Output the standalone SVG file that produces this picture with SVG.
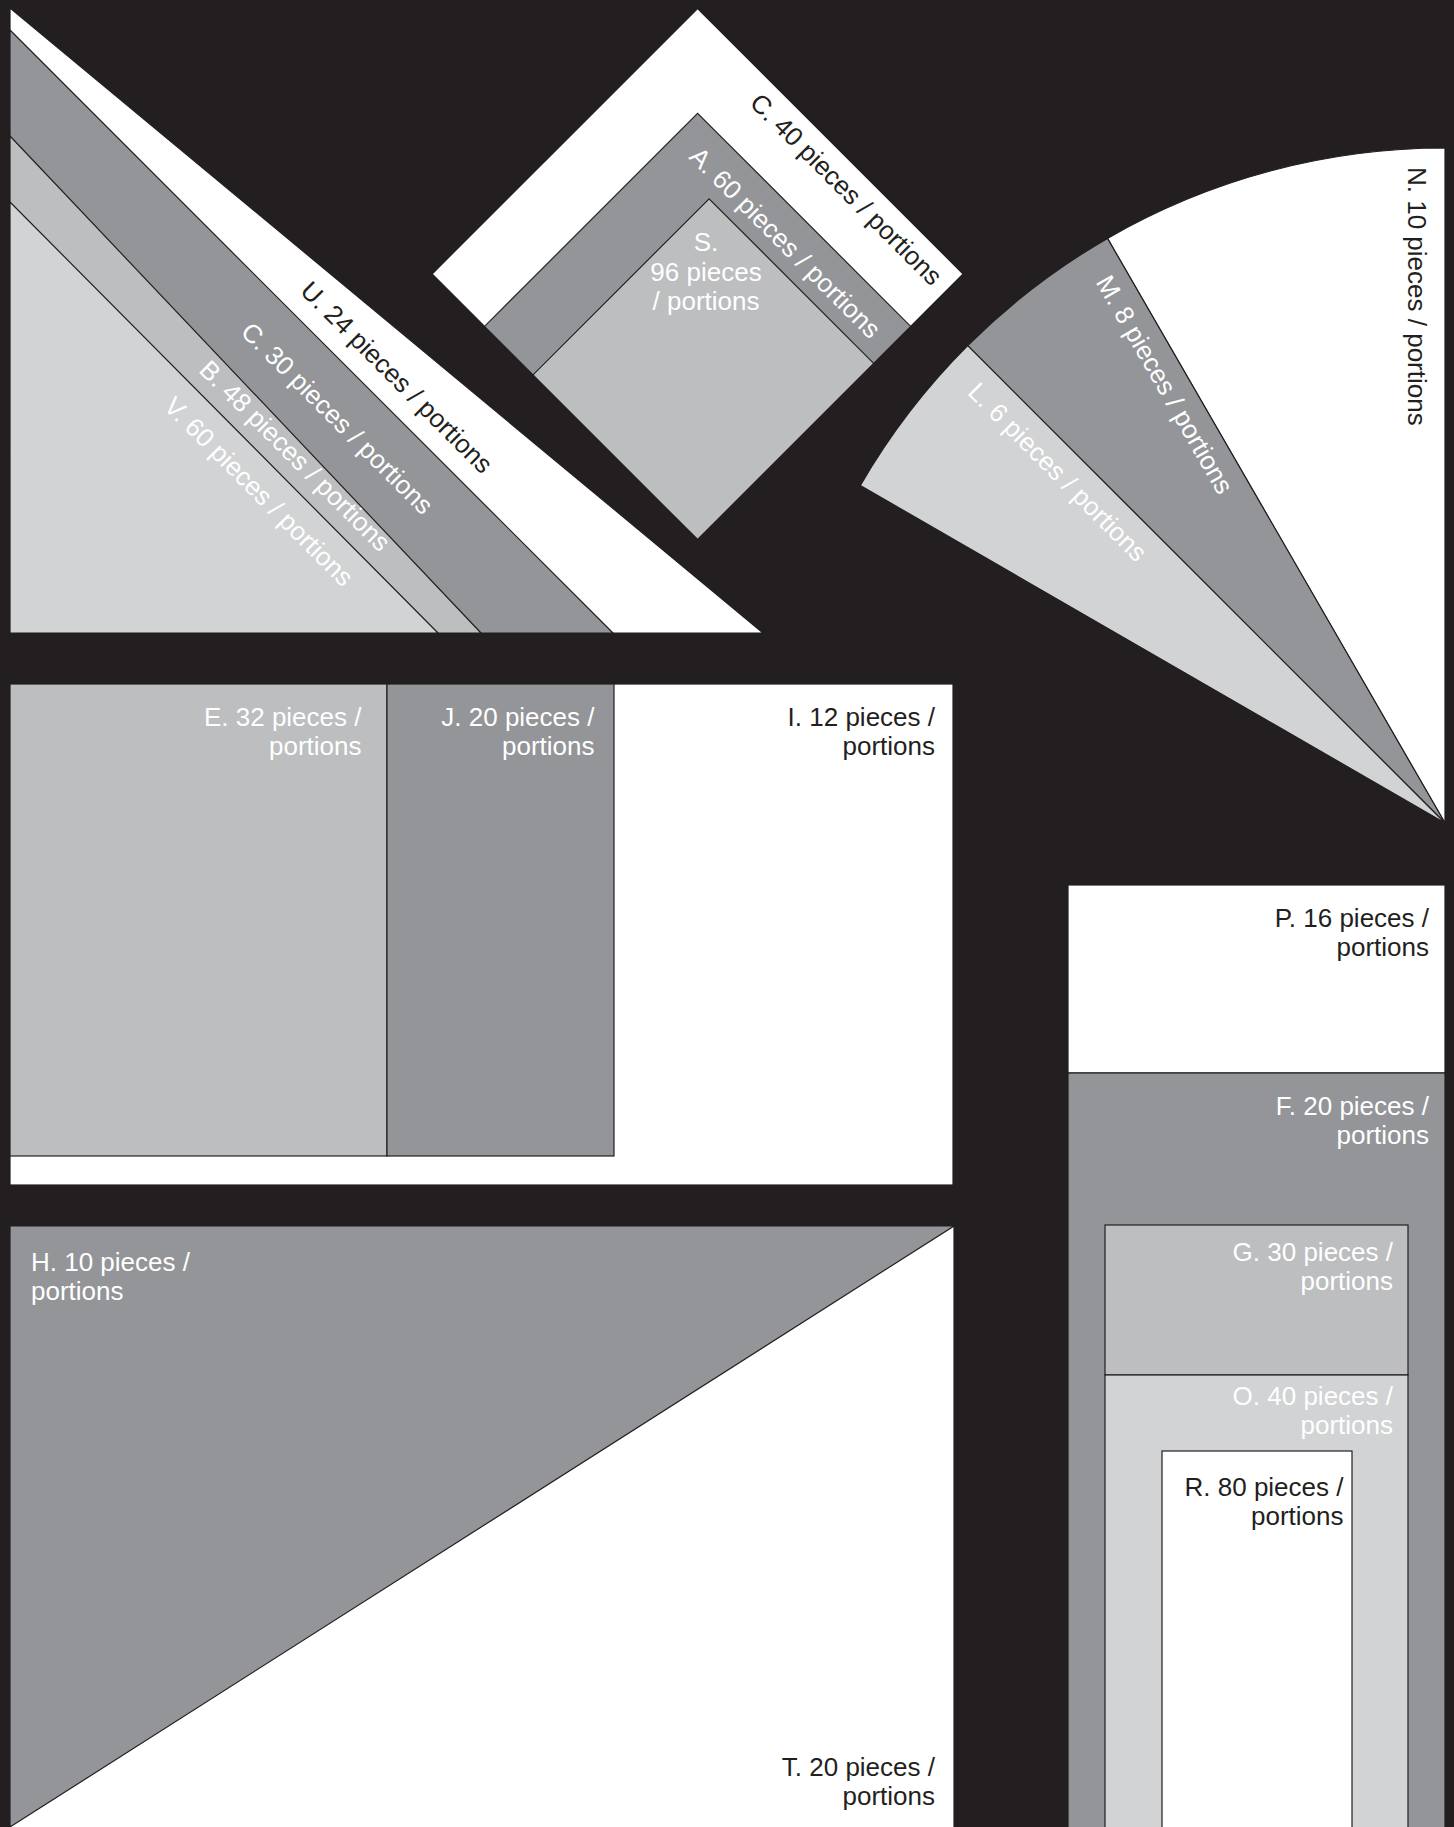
<svg xmlns="http://www.w3.org/2000/svg" width="1454" height="1827" viewBox="0 0 1454 1827">
<style>
.s{stroke:#231f20;stroke-width:1.2;stroke-linejoin:miter}
.w{fill:#ffffff}.g1{fill:#939598}.g2{fill:#bcbec0}.g3{fill:#d1d3d4}
text{font-family:"Liberation Sans",Arial,sans-serif;font-size:26px}
.tb{fill:#231f20}.tw{fill:#ffffff}
</style>
<rect width="1454" height="1827" fill="#231f20"/>
<g id="tri-stack">
<polygon class="w s" points="10,8 763,633 10,633"/>
<polygon class="g1 s" points="10,30 613,633 10,633"/>
<polygon class="g2 s" points="10,136 481,633 10,633"/>
<polygon class="g3 s" points="10,202 438,633 10,633"/>
<text class="tb" text-anchor="middle" transform="translate(390.4,383.6) rotate(45)">U. 24 pieces / portions</text>
<text class="tw" text-anchor="middle" transform="translate(330.9,424.6) rotate(45)">C. 30 pieces / portions</text>
<text class="tw" text-anchor="middle" transform="translate(288.8,462.1) rotate(45)">B. 48 pieces / portions</text>
<text class="tw" text-anchor="middle" transform="translate(252.6,497.8) rotate(45)">V. 60 pieces / portions</text>
</g>
<g id="diamond">
<polygon class="w s" points="697.6,8.5 963.1,274 697.6,539.5 432.1,274"/>
<polygon class="g1 s" points="697.6,113.3 910.7,326.4 697.6,539.5 484.5,326.4"/>
<polygon class="g2 s" points="709.1,198.8 873.7,363.4 697.6,539.5 533,374.9"/>
<text class="tb" text-anchor="middle" transform="translate(840,195.6) rotate(45)">C. 40 pieces / portions</text>
<text class="tw" text-anchor="middle" transform="translate(778.9,249) rotate(45)">A. 60 pieces / portions</text>
<text class="tw" text-anchor="middle" x="706" y="251">S.</text>
<text class="tw" text-anchor="middle" x="706" y="281">96 pieces</text>
<text class="tw" text-anchor="middle" x="706" y="310">/ portions</text>
</g>
<g id="fan">
<path class="w s" d="M1445,823 L1445,148 A675,675 0 0 0 1107.5,238.4 Z"/>
<path class="g1 s" d="M1445,823 L1107.5,238.4 A675,675 0 0 0 967.7,345.7 Z"/>
<path class="g3 s" d="M1445,823 L967.7,345.7 A675,675 0 0 0 860.4,485.5 Z"/>
<text class="tb" transform="translate(1408,167) rotate(90)">N. 10 pieces / portions</text>
<text class="tw" text-anchor="middle" transform="translate(1157,389) rotate(60)">M. 8 pieces / portions</text>
<text class="tw" text-anchor="middle" transform="translate(1051.4,478.4) rotate(45)">L. 6 pieces / portions</text>
</g>
<g id="eji">
<rect class="w s" x="10" y="684" width="943" height="501"/>
<rect class="g2 s" x="10" y="684" width="377" height="472"/>
<rect class="g1 s" x="387" y="684" width="227" height="472"/>
<text class="tw" text-anchor="end" x="361.5" y="726">E. 32 pieces /</text>
<text class="tw" text-anchor="end" x="361.5" y="755">portions</text>
<text class="tw" text-anchor="end" x="594.5" y="726">J. 20 pieces /</text>
<text class="tw" text-anchor="end" x="594.5" y="755">portions</text>
<text class="tb" text-anchor="end" x="935" y="726">I. 12 pieces /</text>
<text class="tb" text-anchor="end" x="935" y="755">portions</text>
</g>
<g id="ht">
<rect class="w s" x="10" y="1226" width="944" height="610"/>
<polygon class="g1 s" points="10,1226 954,1226 10,1827"/>
<text class="tw" x="31" y="1271">H. 10 pieces /</text>
<text class="tw" x="31" y="1300">portions</text>
<text class="tb" text-anchor="end" x="935" y="1776">T. 20 pieces /</text>
<text class="tb" text-anchor="end" x="935" y="1805">portions</text>
</g>
<g id="column">
<rect class="w s" x="1068" y="885" width="377" height="188"/>
<rect class="g1 s" x="1068" y="1073" width="377" height="770"/>
<rect class="g2 s" x="1105" y="1225" width="303" height="150"/>
<rect class="g3 s" x="1105" y="1375" width="303" height="470"/>
<rect class="w s" x="1162" y="1451" width="190" height="400"/>
<text class="tb" text-anchor="end" x="1429" y="927">P. 16 pieces /</text>
<text class="tb" text-anchor="end" x="1429" y="956">portions</text>
<text class="tw" text-anchor="end" x="1429" y="1115">F. 20 pieces /</text>
<text class="tw" text-anchor="end" x="1429" y="1144">portions</text>
<text class="tw" text-anchor="end" x="1393" y="1261">G. 30 pieces /</text>
<text class="tw" text-anchor="end" x="1393" y="1290">portions</text>
<text class="tw" text-anchor="end" x="1393" y="1405">O. 40 pieces /</text>
<text class="tw" text-anchor="end" x="1393" y="1434">portions</text>
<text class="tb" text-anchor="end" x="1343.5" y="1496">R. 80 pieces /</text>
<text class="tb" text-anchor="end" x="1343.5" y="1525">portions</text>
</g>
</svg>
